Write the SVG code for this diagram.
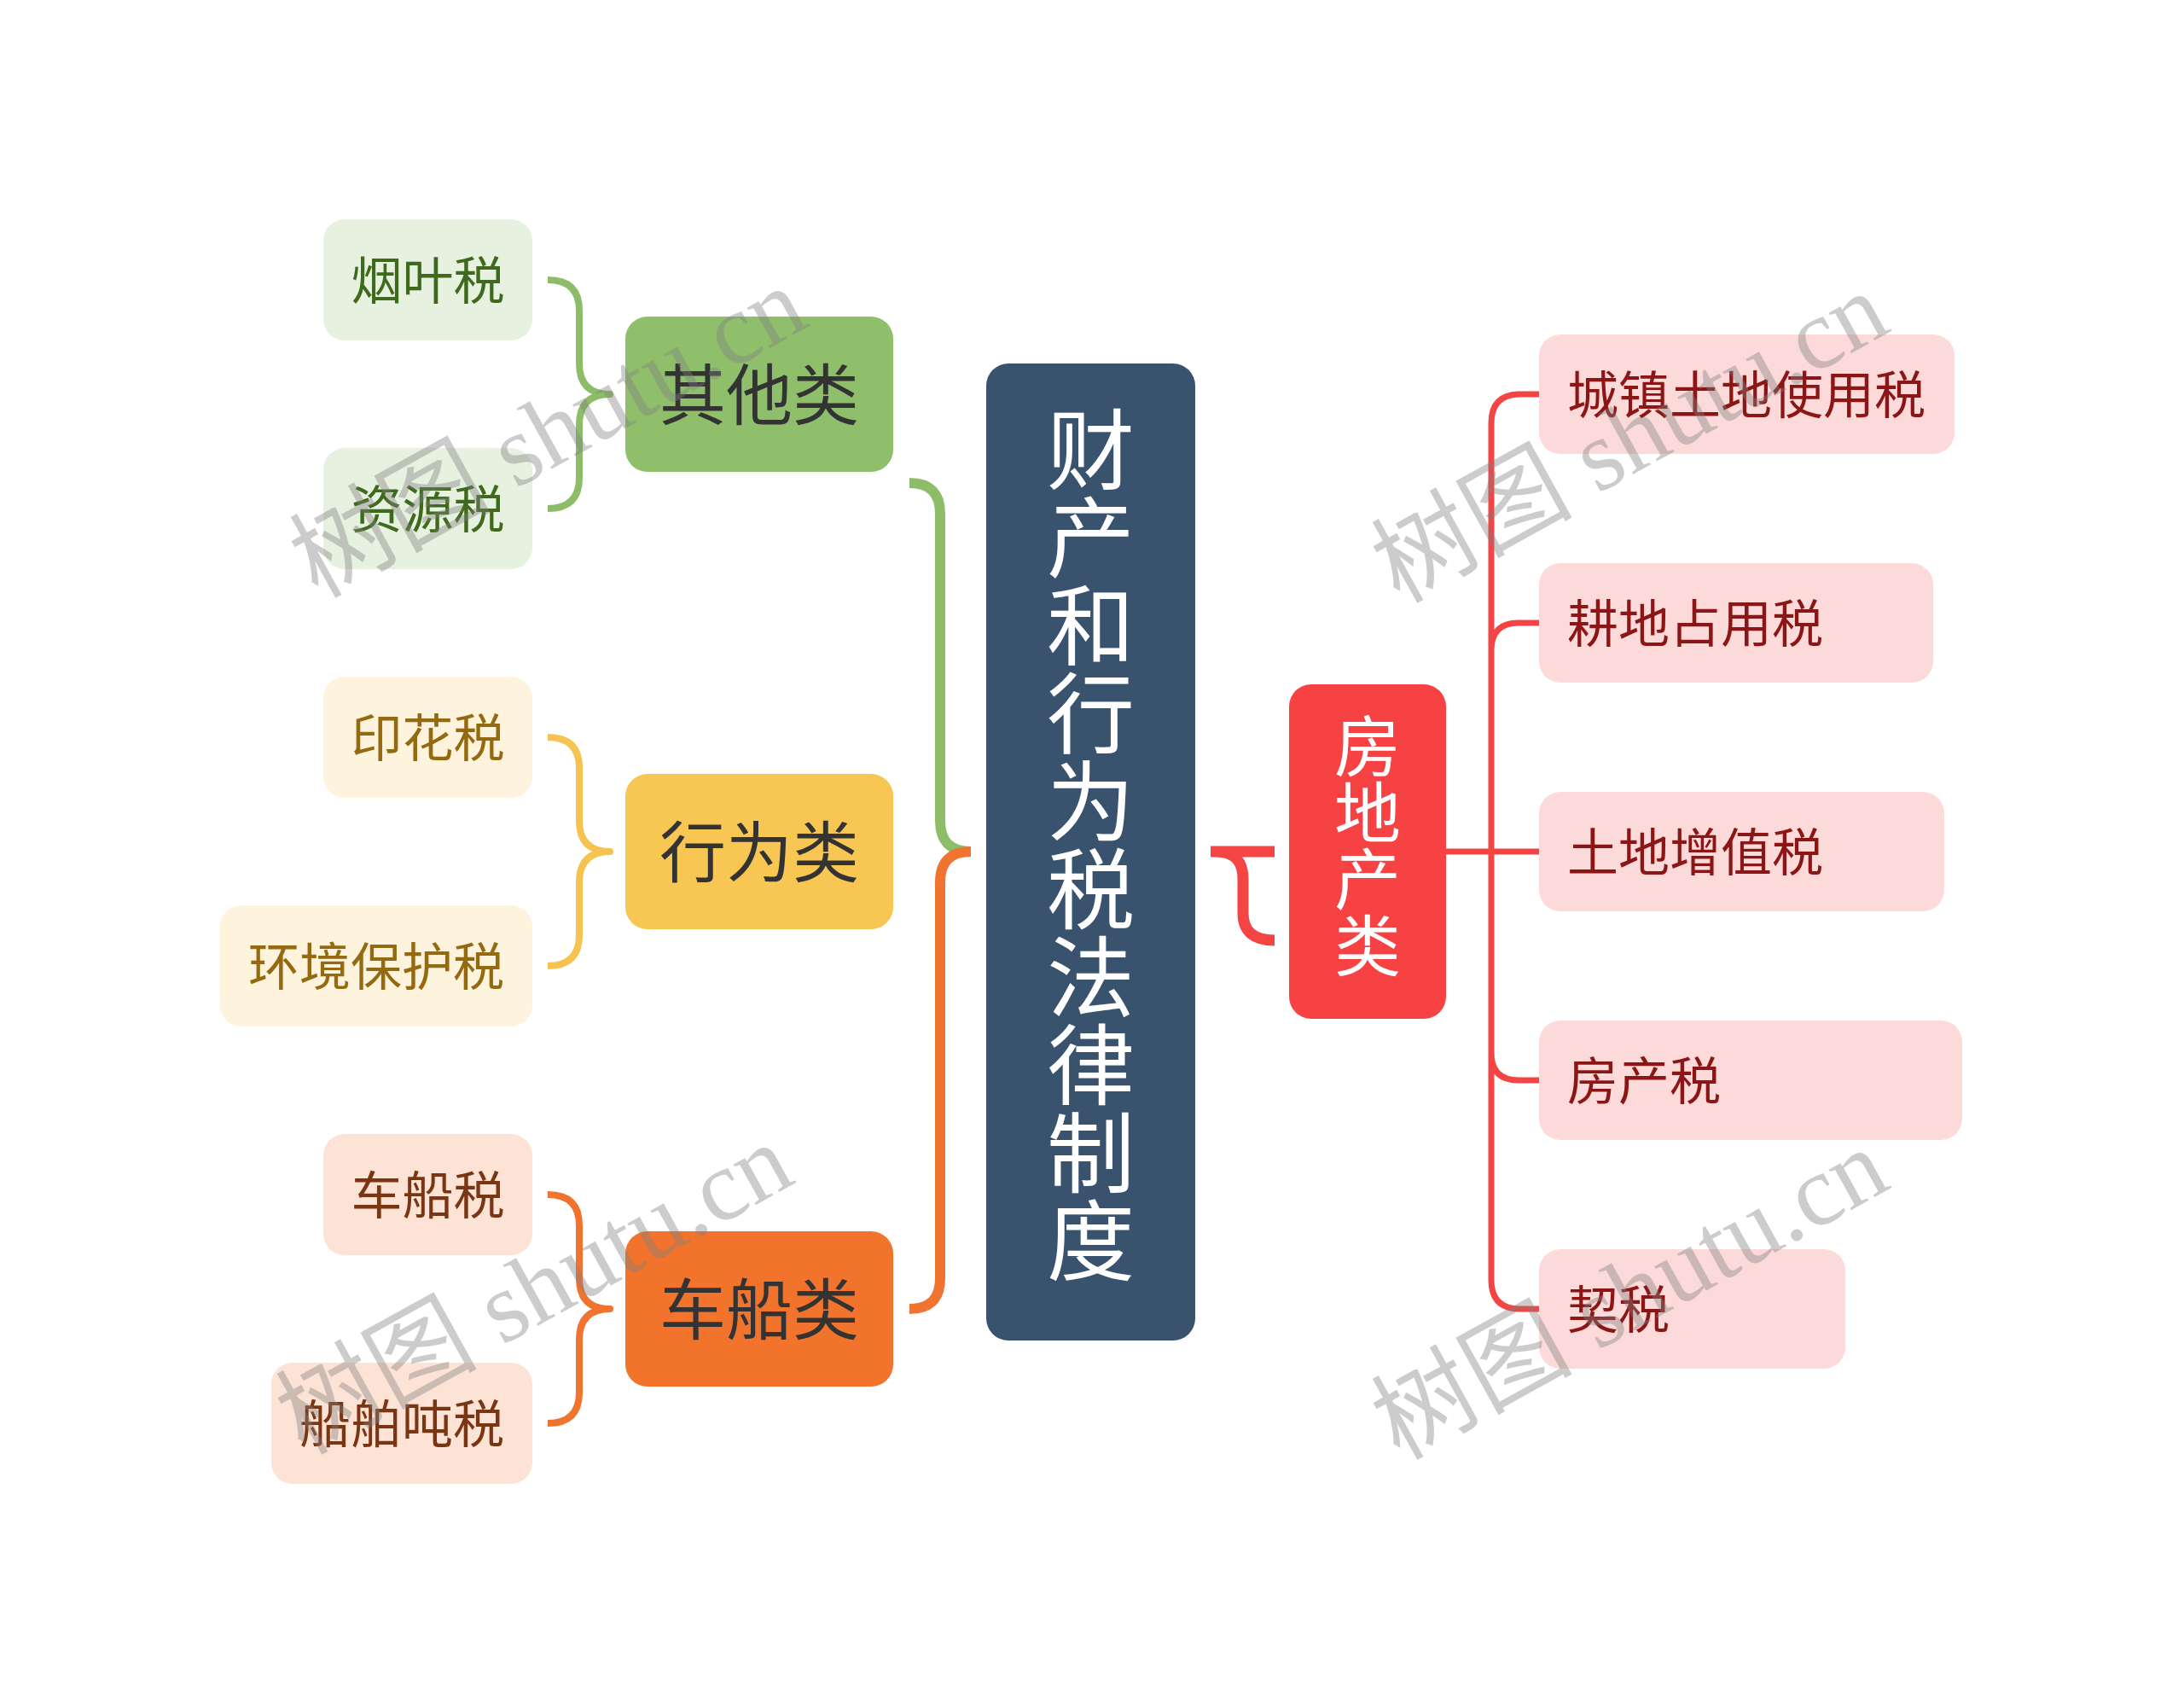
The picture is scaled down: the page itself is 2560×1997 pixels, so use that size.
<svg xmlns="http://www.w3.org/2000/svg" width="2560" height="1997" viewBox="0 0 2560 1997">
<style>
text{font-family:"Noto Sans CJK SC","Noto Sans",sans-serif}
.l2{font-size:60px;text-anchor:middle}
.l2r{font-size:60px;text-anchor:start;fill:#8C1515}
.l1{font-size:78px;text-anchor:middle;fill:#333333}
.root{font-size:103px;text-anchor:middle;fill:#ffffff;writing-mode:vertical-rl}
.fang{font-size:78px;text-anchor:middle;fill:#ffffff;writing-mode:vertical-rl}
.c{fill:none;stroke-linecap:butt;stroke-linejoin:round}
.g{stroke:#8DBD68}.y{stroke:#F6C350}.o{stroke:#F07330}.r{stroke:#F54444}
.wm{font-family:"Liberation Serif","Noto Sans CJK SC",serif;font-size:118px;fill:#808080;fill-opacity:0.4}
</style>
<rect width="2560" height="1997" fill="#ffffff"/>
<g id="connectors">
<path class="c g" stroke-width="12" d="M1138,998 Q1102,998 1102,962 L1102,602 Q1102,566 1066,566"/>
<path class="c o" stroke-width="12" d="M1138,998 Q1102,998 1102,1034 L1102,1498 Q1102,1534 1066,1534"/>
<path class="c g" stroke-width="8" d="M642,328 Q679,328 679,364 L679,426 Q679,462 715,462 Q679,462 679,498 L679,560 Q679,596 642,596"/>
<path class="c y" stroke-width="8" d="M642,864 Q679,864 679,900 L679,962 Q679,998 715,998 Q679,998 679,1034 L679,1096 Q679,1132 642,1132"/>
<path class="c o" stroke-width="8" d="M642,1400 Q679,1400 679,1436 L679,1498 Q679,1534 715,1534 Q679,1534 679,1570 L679,1632 Q679,1668 642,1668"/>
<path class="c r" stroke-width="13" d="M1419,998 L1494,998 M1425,998 Q1457,998 1457,1030 L1457,1070 Q1457,1102 1494,1102"/>
<path class="c r" stroke-width="7" d="M1695,998 L1804,998 M1804,462 L1782,462 Q1748,462 1748,496 L1748,1500 Q1748,1534 1782,1534 L1804,1534 M1748,762 Q1748,730 1780,730 L1804,730 M1748,1234 Q1748,1266 1780,1266 L1804,1266"/>
</g>
<g id="root">
<rect x="1156" y="426" width="245" height="1145" rx="26" fill="#39536F"/>
<text class="root" x="1278.5" y="990">财产和行为税法律制度</text>
</g>
<g id="qita">
<rect x="733" y="371" width="314" height="182" rx="26" fill="#8FBF6B"/>
<text class="l1" x="890" y="491.5">其他类</text>
</g>
<g id="xingwei">
<rect x="733" y="907" width="314" height="182" rx="26" fill="#F8C653"/>
<text class="l1" x="890" y="1027.5">行为类</text>
</g>
<g id="chechuan">
<rect x="733" y="1443" width="314" height="182" rx="26" fill="#F2732C"/>
<text class="l1" x="890" y="1563.5">车船类</text>
</g>
<g id="fangdichan">
<rect x="1511" y="802" width="184" height="392" rx="26" fill="#F64242"/>
<text class="fang" x="1603" y="991">房地产类</text>
</g>
<g id="yanye">
<rect x="379" y="257" width="245" height="142" rx="25" fill="#E7F1DF"/>
<text class="l2" x="501.5" y="350.5" fill="#3F6A1E">烟叶税</text>
</g>
<g id="ziyuan">
<rect x="379" y="525" width="245" height="142" rx="25" fill="#E7F1DF"/>
<text class="l2" x="501.5" y="618.5" fill="#3F6A1E">资源税</text>
</g>
<g id="yinhua">
<rect x="379" y="793" width="245" height="142" rx="25" fill="#FEF3DD"/>
<text class="l2" x="501.5" y="886.5" fill="#94690F">印花税</text>
</g>
<g id="huanjing">
<rect x="258" y="1061" width="366" height="142" rx="25" fill="#FEF3DD"/>
<text class="l2" x="441" y="1154.5" fill="#94690F">环境保护税</text>
</g>
<g id="chechuanshui">
<rect x="379" y="1329" width="245" height="142" rx="25" fill="#FDE3D6"/>
<text class="l2" x="501.5" y="1422.5" fill="#7A3612">车船税</text>
</g>
<g id="chuanbo">
<rect x="318" y="1597" width="306" height="142" rx="25" fill="#FDE3D6"/>
<text class="l2" x="471" y="1690.5" fill="#7A3612">船舶吨税</text>
</g>
<g id="chengzhen">
<rect x="1804" y="392" width="487" height="140" rx="25" fill="#FDDADA"/>
<text class="l2r" x="1837" y="484.5">城镇土地使用税</text>
</g>
<g id="gengdi">
<rect x="1804" y="660" width="462" height="140" rx="25" fill="#FDDADA"/>
<text class="l2r" x="1837" y="752.5">耕地占用税</text>
</g>
<g id="zengzhi">
<rect x="1804" y="928" width="475" height="140" rx="25" fill="#FDDADA"/>
<text class="l2r" x="1837" y="1020.5">土地增值税</text>
</g>
<g id="fangchan">
<rect x="1804" y="1196" width="496" height="140" rx="25" fill="#FDDADA"/>
<text class="l2r" x="1837" y="1288.5">房产税</text>
</g>
<g id="qishui">
<rect x="1804" y="1464" width="359" height="140" rx="25" fill="#FDDADA"/>
<text class="l2r" x="1837" y="1556.5">契税</text>
</g>
<g id="watermarks">
<text class="wm" transform="translate(372,702) rotate(-29)">树图 shutu.cn</text>
<text class="wm" transform="translate(1640,708) rotate(-29)">树图 shutu.cn</text>
<text class="wm" transform="translate(356,1706) rotate(-29)">树图 shutu.cn</text>
<text class="wm" transform="translate(1640,1712) rotate(-29)">树图 shutu.cn</text>
</g>
</svg>
